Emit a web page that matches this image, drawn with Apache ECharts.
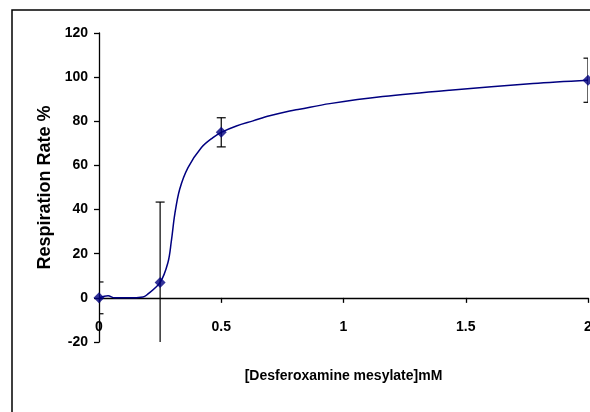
<!DOCTYPE html>
<html>
<head>
<meta charset="utf-8">
<script src="https://cdn.jsdelivr.net/npm/echarts@6/dist/echarts.min.js"></script>
<style>
html,body{margin:0;padding:0;background:#fff;}
#chart{width:590px;height:412px;}
</style>
</head>
<body>
<div id="chart"></div>
<script>
// Measured points (mM, respiration %), with error bar half-widths
const doseMM = [0, 0.25, 0.5, 2];
const respiration = [0, 7, 75, 98.6];
const errorSD = [7.2, 36.4, 6.6, 10];

// Fitted curve
const curveX = [0, 0.037, 0.064, 0.12, 0.18, 0.194, 0.25, 0.282, 0.296, 0.31, 0.33, 0.364, 0.419, 0.466, 0.5, 0.562, 0.63, 0.698, 0.78, 0.82, 0.944, 1.16, 1.434, 1.775, 2];
const curveY = [0, 0.9, 0, 0, 0.4, 1.2, 7, 16, 25.8, 37.9, 49.2, 59, 68.1, 72.6, 75, 77.9, 80.2, 82.5, 84.7, 85.5, 88, 91.2, 94.1, 97.1, 98.6];

const xTicks = [0, 0.5, 1, 1.5, 2];
const yTicks = [-20, 0, 20, 40, 60, 80, 100, 120];

const xTitle = '[Desferoxamine mesylate]mM';
const yTitle = 'Respiration Rate %';

const navy = '#000080';
const font = "'Liberation Sans', Arial, sans-serif";

const chart = echarts.init(document.getElementById('chart'), null, {renderer: 'canvas'});

const curveData = curveX.map((x, i) => [x, curveY[i]]);
const pointData = doseMM.map((x, i) => [x, respiration[i]]);
const errData = doseMM.map((x, i) => [x, respiration[i] - errorSD[i], respiration[i] + errorSD[i]]);

chart.setOption({
  animation: false,
  backgroundColor: '#fff',
  graphic: [{
    type: 'rect',
    shape: {x: 12, y: 10, width: 620, height: 440},
    style: {fill: 'none', stroke: '#000', lineWidth: 1.5},
    z: 100
  }],
  grid: {left: 99, right: 2, top: 33, bottom: 70, containLabel: false, outerBoundsMode: 'none'},
  xAxis: {
    type: 'value',
    min: xTicks[0], max: xTicks[xTicks.length - 1], interval: 0.5,
    splitLine: {show: false},
    axisLine: {show: true, onZero: true, lineStyle: {color: '#000', width: 1.3}},
    axisTick: {show: true, length: 5, lineStyle: {color: '#000', width: 1.3}},
    axisLabel: {
      color: '#000', fontFamily: font, fontWeight: 'bold', fontSize: 14, margin: -22,
      showMinLabel: true, showMaxLabel: true,
      formatter: v => String(v)
    },
    name: xTitle,
    nameLocation: 'middle',
    nameGap: 27,
    nameTextStyle: {color: '#000', fontFamily: font, fontWeight: 'bold', fontSize: 14}
  },
  yAxis: {
    type: 'value',
    min: yTicks[0], max: yTicks[yTicks.length - 1], interval: 20,
    splitLine: {show: false},
    axisLine: {show: true, lineStyle: {color: '#000', width: 1.3}},
    axisTick: {show: true, length: 5, lineStyle: {color: '#000', width: 1.3}},
    axisLabel: {color: '#000', fontFamily: font, fontWeight: 'bold', fontSize: 14, margin: 11},
    name: yTitle,
    nameLocation: 'middle',
    nameGap: 41,
    nameRotate: 90,
    nameTextStyle: {color: '#000', fontFamily: font, fontWeight: 'bold', fontSize: 18}
  },
  series: [
    {
      type: 'line',
      data: curveData,
      smooth: 0.35,
      showSymbol: false,
      symbol: 'none',
      lineStyle: {color: navy, width: 1.5},
      z: 3
    },
    {
      type: 'custom',
      data: errData,
      clip: true,
      renderItem: function (params, api) {
        const x = api.value(0);
        const lo = api.coord([x, api.value(1)]);
        const hi = api.coord([x, api.value(2)]);
        const cs = params.coordSys;
        const bottom = cs.y + cs.height;
        const cap = 4.5;
        const children = [];
        const yLo = Math.min(lo[1], bottom + 4);
        children.push({type: 'line', shape: {x1: hi[0], y1: hi[1], x2: lo[0], y2: yLo}, style: {stroke: '#000', lineWidth: 1.2}});
        children.push({type: 'line', shape: {x1: hi[0] - cap, y1: hi[1], x2: hi[0] + cap, y2: hi[1]}, style: {stroke: '#000', lineWidth: 1.2}});
        if (lo[1] <= bottom) {
          children.push({type: 'line', shape: {x1: lo[0] - cap, y1: lo[1], x2: lo[0] + cap, y2: lo[1]}, style: {stroke: '#000', lineWidth: 1.2}});
        }
        return {type: 'group', children: children};
      },
      z: 4
    },
    {
      type: 'scatter',
      data: pointData,
      symbol: 'diamond',
      symbolSize: 11,
      itemStyle: {color: navy},
      z: 5
    }
  ]
});
</script>
</body>
</html>
